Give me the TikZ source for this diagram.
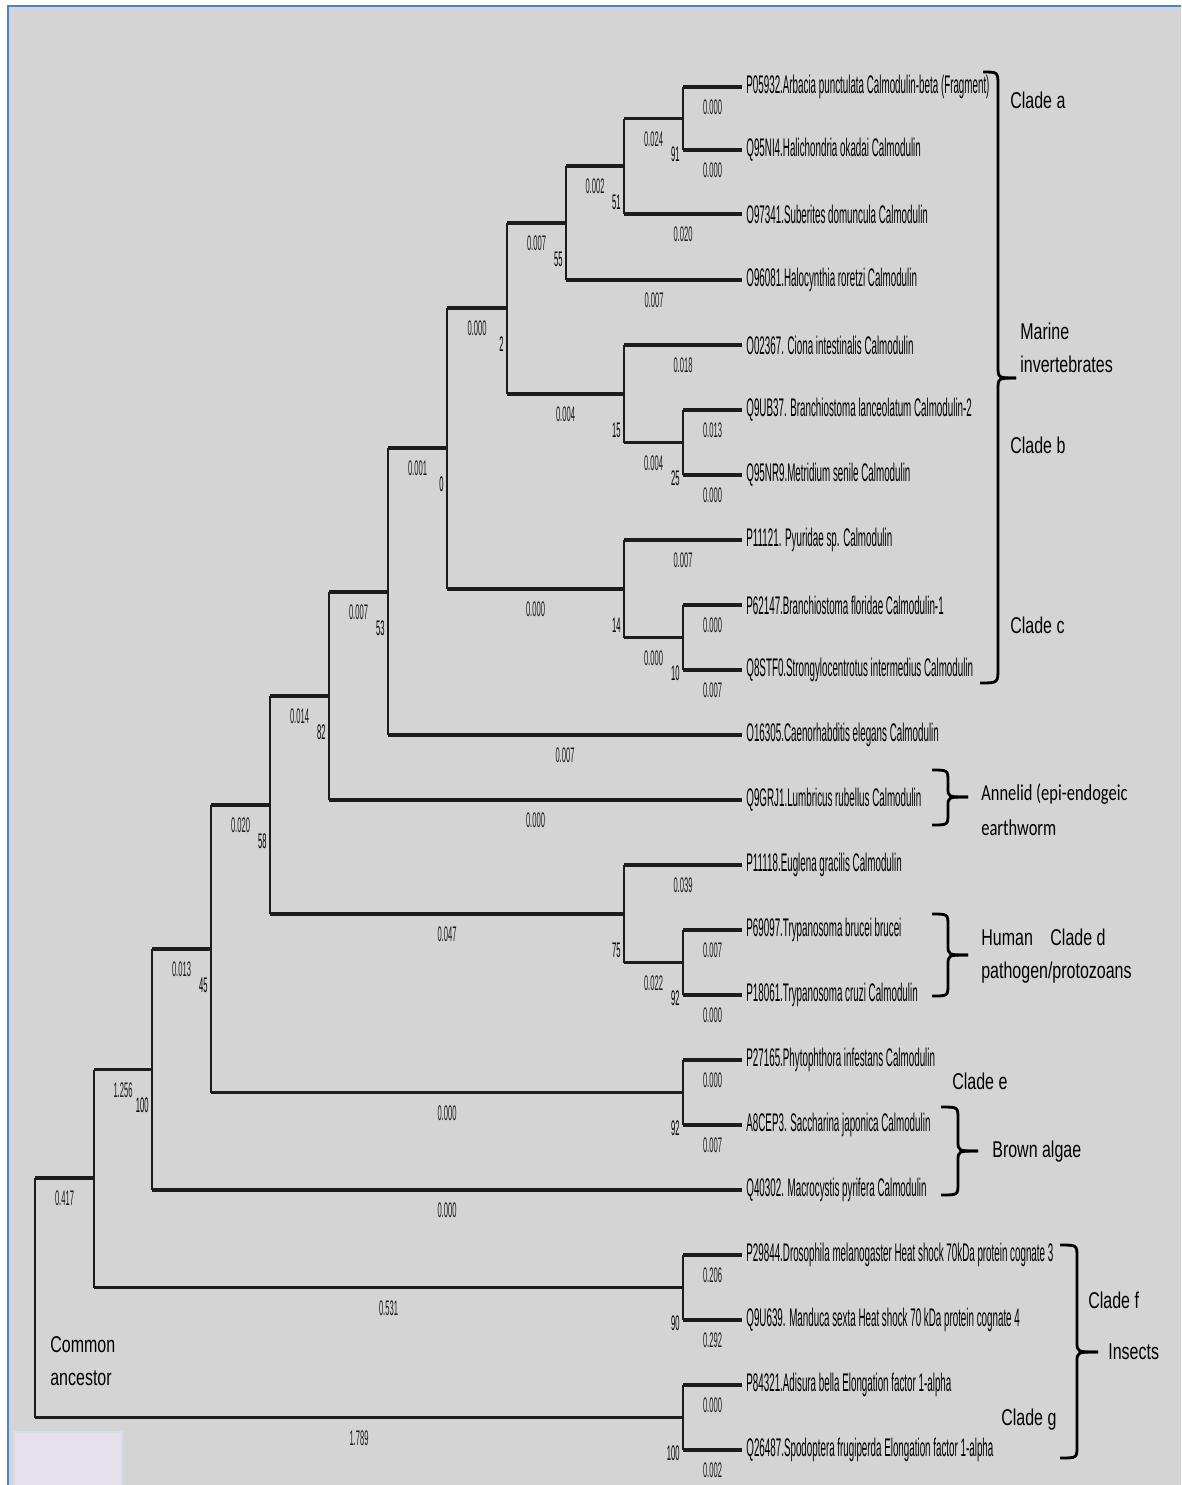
\documentclass[tikz,border=0pt]{standalone}
\usepackage{fontspec}
\setmainfont{Liberation Sans}
\newfontfamily\leaffont[FakeStretch=0.385]{Liberation Sans}
\newfontfamily\numfont[FakeStretch=0.36]{Liberation Sans}
\newfontfamily\cladefont[FakeStretch=0.7]{Liberation Sans}
\newfontfamily\annfont[FakeStretch=0.72]{Carlito}
\definecolor{bggray}{HTML}{D4D4D4}
\definecolor{frameblue}{HTML}{4F81C7}
\definecolor{boxlilac}{HTML}{E5E0EC}
\definecolor{boxedge}{HTML}{D3DDEB}
\definecolor{treeink}{HTML}{1C1C1C}
\begin{document}
\begin{tikzpicture}[x=0.02cm, y=-0.02cm,
  hbr/.style={line width=1.8pt, treeink},
  vbr/.style={line width=0.8pt, treeink},
  leaf/.style={anchor=west, inner xsep=2.3pt, inner ysep=0pt, font=\leaffont\fontsize{14.5}{14.5}\selectfont},
  blen/.style={below=6.5pt, inner sep=0pt, font=\numfont\fontsize{12}{12}\selectfont},
  boot/.style={anchor=east, xshift=-0.06cm, yshift=-0.72cm, inner sep=0pt, font=\numfont\fontsize{12}{12}\selectfont},
  clade/.style={anchor=west, inner sep=0pt, align=left, font=\cladefont\fontsize{13}{18.7}\selectfont},
  ann/.style={anchor=west, inner sep=0pt, align=left, font=\annfont\fontsize{13}{19.8}\selectfont},
  brace/.style={line width=1.6pt, black}]
  \useasboundingbox (0,0) rectangle (1181,1485);
  % background and frame
  \fill[white] (0,0) rectangle (1181,1485);
  \fill[bggray] (8,6) rectangle (1181,1485);
  \draw[frameblue, line width=1.6pt] (8,1485) -- (8,6) -- (1181,6);
  \filldraw[fill=boxlilac, draw=boxedge, line width=0.8pt] (14,1432) rectangle (122,1486);

  % leaves
  \node[leaf] (l1) at (742,87) {P05932.Arbacia punctulata Calmodulin-beta (Fragment)};
  \node[leaf] (l2) at (742,150) {Q95NI4.Halichondria okadai Calmodulin};
  \node[leaf] (l3) at (742,214) {O97341.Suberites domuncula Calmodulin};
  \node[leaf] (l4) at (742,280) {O96081.Halocynthia roretzi Calmodulin};
  \node[leaf] (l5) at (742,345) {O02367. Ciona intestinalis Calmodulin};
  \node[leaf] (l6) at (742,410) {Q9UB37. Branchiostoma lanceolatum Calmodulin-2};
  \node[leaf] (l7) at (742,475) {Q95NR9.Metridium senile Calmodulin};
  \node[leaf] (l8) at (742,540) {P11121. Pyuridae sp. Calmodulin};
  \node[leaf] (l9) at (742,605) {P62147.Branchiostoma floridae Calmodulin-1};
  \node[leaf] (l10) at (742,670) {Q8STF0.Strongylocentrotus intermedius Calmodulin};
  \node[leaf] (l11) at (742,735) {O16305.Caenorhabditis elegans Calmodulin};
  \node[leaf] (l12) at (742,800) {Q9GRJ1.Lumbricus rubellus Calmodulin};
  \node[leaf] (l13) at (742,865) {P11118.Euglena gracilis Calmodulin};
  \node[leaf] (l14) at (742,930) {P69097.Trypanosoma brucei brucei};
  \node[leaf] (l15) at (742,995) {P18061.Trypanosoma cruzi Calmodulin};
  \node[leaf] (l16) at (742,1060) {P27165.Phytophthora infestans Calmodulin};
  \node[leaf] (l17) at (742,1125) {A8CEP3. Saccharina japonica Calmodulin};
  \node[leaf] (l18) at (742,1190) {Q40302. Macrocystis pyrifera Calmodulin};
  \node[leaf] (l19) at (742,1255) {P29844.Drosophila melanogaster Heat shock 70kDa protein cognate 3};
  \node[leaf] (l20) at (742,1320) {Q9U639. Manduca sexta Heat shock 70 kDa protein cognate 4};
  \node[leaf] (l21) at (742,1385) {P84321.Adisura bella Elongation factor 1-alpha};
  \node[leaf] (l22) at (742,1450) {Q26487.Spodoptera frugiperda Elongation factor 1-alpha};

  % internal nodes
  \coordinate (n1) at (683,118.5);
  \coordinate (n2) at (624,166);
  \coordinate (n3) at (566,223);
  \coordinate (nb2) at (683,442.5);
  \coordinate (nb1) at (624,394);
  \coordinate (n4) at (507,308);
  \coordinate (nc2) at (683,637.5);
  \coordinate (nc1) at (624,589);
  \coordinate (n5) at (447,448);
  \coordinate (n6) at (388,592);
  \coordinate (n7) at (329,696);
  \coordinate (nd2) at (683,962.5);
  \coordinate (nd1) at (624,914);
  \coordinate (n8) at (270,805);
  \coordinate (ne) at (683,1092.5);
  \coordinate (n9) at (211,949);
  \coordinate (n10) at (152,1069.5);
  \coordinate (nf) at (683,1287.5);
  \coordinate (n11) at (94,1178);
  \coordinate (ng) at (683,1417.5);
  \coordinate (root) at (35,1298);

  % clade a
  \draw[vbr] (n1 |- l1.west) -- (n1 |- l2.west);
  \draw[hbr] (n1 |- l1.west) -- node[blen] (bl1) {0.000} (l1.west);
  \draw[hbr] (n1 |- l2.west) -- node[blen] (bl2) {0.000} (l2.west);
  \draw[vbr] (n2 |- n1) -- (n2 |- l3.west);
  \draw[hbr] (n2 |- n1) -- node[blen] (bl3) {0.024} (n1);
  \draw[hbr] (n2 |- l3.west) -- node[blen] (bl4) {0.020} (l3.west);
  \draw[vbr] (n3 |- n2) -- (n3 |- l4.west);
  \draw[hbr] (n3 |- n2) -- node[blen] (bl5) {0.002} (n2);
  \draw[hbr] (n3 |- l4.west) -- node[blen] (bl6) {0.007} (l4.west);
  % clade b
  \draw[vbr] (nb2 |- l6.west) -- (nb2 |- l7.west);
  \draw[hbr] (nb2 |- l6.west) -- node[blen] (bl7) {0.013} (l6.west);
  \draw[hbr] (nb2 |- l7.west) -- node[blen] (bl8) {0.000} (l7.west);
  \draw[vbr] (nb1 |- l5.west) -- (nb1 |- nb2);
  \draw[hbr] (nb1 |- l5.west) -- node[blen] (bl9) {0.018} (l5.west);
  \draw[hbr] (nb1 |- nb2) -- node[blen] (bl10) {0.004} (nb2);
  \draw[vbr] (n4 |- n3) -- (n4 |- nb1);
  \draw[hbr] (n4 |- n3) -- node[blen] (bl11) {0.007} (n3);
  \draw[hbr] (n4 |- nb1) -- node[blen] (bl12) {0.004} (nb1);
  % clade c
  \draw[vbr] (nc2 |- l9.west) -- (nc2 |- l10.west);
  \draw[hbr] (nc2 |- l9.west) -- node[blen] (bl13) {0.000} (l9.west);
  \draw[hbr] (nc2 |- l10.west) -- node[blen] (bl14) {0.007} (l10.west);
  \draw[vbr] (nc1 |- l8.west) -- (nc1 |- nc2);
  \draw[hbr] (nc1 |- l8.west) -- node[blen] (bl15) {0.007} (l8.west);
  \draw[hbr] (nc1 |- nc2) -- node[blen] (bl16) {0.000} (nc2);
  \draw[vbr] (n5 |- n4) -- (n5 |- nc1);
  \draw[hbr] (n5 |- n4) -- node[blen] (bl17) {0.000} (n4);
  \draw[hbr] (n5 |- nc1) -- node[blen] (bl18) {0.000} (nc1);
  % nematode and annelid
  \draw[vbr] (n6 |- n5) -- (n6 |- l11.west);
  \draw[hbr] (n6 |- n5) -- node[blen] (bl19) {0.001} (n5);
  \draw[hbr] (n6 |- l11.west) -- node[blen] (bl20) {0.007} (l11.west);
  \draw[vbr] (n7 |- n6) -- (n7 |- l12.west);
  \draw[hbr] (n7 |- n6) -- node[blen] (bl21) {0.007} (n6);
  \draw[hbr] (n7 |- l12.west) -- node[blen] (bl22) {0.000} (l12.west);
  % clade d
  \draw[vbr] (nd2 |- l14.west) -- (nd2 |- l15.west);
  \draw[hbr] (nd2 |- l14.west) -- node[blen] (bl23) {0.007} (l14.west);
  \draw[hbr] (nd2 |- l15.west) -- node[blen] (bl24) {0.000} (l15.west);
  \draw[vbr] (nd1 |- l13.west) -- (nd1 |- nd2);
  \draw[hbr] (nd1 |- l13.west) -- node[blen] (bl25) {0.039} (l13.west);
  \draw[hbr] (nd1 |- nd2) -- node[blen] (bl26) {0.022} (nd2);
  \draw[vbr] (n8 |- n7) -- (n8 |- nd1);
  \draw[hbr] (n8 |- n7) -- node[blen] (bl27) {0.014} (n7);
  \draw[hbr] (n8 |- nd1) -- node[blen] (bl28) {0.047} (nd1);
  % clade e and brown algae
  \draw[vbr] (ne |- l16.west) -- (ne |- l17.west);
  \draw[hbr] (ne |- l16.west) -- node[blen] (bl29) {0.000} (l16.west);
  \draw[hbr] (ne |- l17.west) -- node[blen] (bl30) {0.007} (l17.west);
  \draw[vbr] (n9 |- n8) -- (n9 |- ne);
  \draw[hbr] (n9 |- n8) -- node[blen] (bl31) {0.020} (n8);
  \draw[hbr] (n9 |- ne) -- node[blen] (bl32) {0.000} (ne);
  \draw[vbr] (n10 |- n9) -- (n10 |- l18.west);
  \draw[hbr] (n10 |- n9) -- node[blen] (bl33) {0.013} (n9);
  \draw[hbr] (n10 |- l18.west) -- node[blen] (bl34) {0.000} (l18.west);
  % insects
  \draw[vbr] (nf |- l19.west) -- (nf |- l20.west);
  \draw[hbr] (nf |- l19.west) -- node[blen] (bl35) {0.206} (l19.west);
  \draw[hbr] (nf |- l20.west) -- node[blen] (bl36) {0.292} (l20.west);
  \draw[vbr] (n11 |- n10) -- (n11 |- nf);
  \draw[hbr] (n11 |- n10) -- node[blen] (bl37) {1.256} (n10);
  \draw[hbr] (n11 |- nf) -- node[blen] (bl38) {0.531} (nf);
  \draw[vbr] (ng |- l21.west) -- (ng |- l22.west);
  \draw[hbr] (ng |- l21.west) -- node[blen] (bl39) {0.000} (l21.west);
  \draw[hbr] (ng |- l22.west) -- node[blen] (bl40) {0.002} (l22.west);
  \draw[vbr] (root |- n11) -- (root |- ng);
  \draw[hbr] (root |- n11) -- node[blen] (bl41) {0.417} (n11);
  \draw[hbr] (root |- ng) -- node[blen] (bl42) {1.789} (ng);

  % bootstrap values
  \node[boot] (bs1) at (n1) {91};
  \node[boot] (bs2) at (n2) {51};
  \node[boot] (bs3) at (n3) {55};
  \node[boot] (bs4) at (n4) {2};
  \node[boot] (bs5) at (nb1) {15};
  \node[boot] (bs6) at (nb2) {25};
  \node[boot] (bs7) at (n5) {0};
  \node[boot] (bs8) at (nc1) {14};
  \node[boot] (bs9) at (nc2) {10};
  \node[boot] (bs10) at (n6) {53};
  \node[boot] (bs11) at (n7) {82};
  \node[boot] (bs12) at (n8) {58};
  \node[boot] (bs13) at (nd1) {75};
  \node[boot] (bs14) at (nd2) {92};
  \node[boot] (bs15) at (n9) {45};
  \node[boot] (bs16) at (ne) {92};
  \node[boot] (bs17) at (n10) {100};
  \node[boot] (bs18) at (nf) {90};
  \node[boot] (bs19) at (ng) {100};

  % braces
  \draw[brace] (983,72) .. controls (998,72) .. (998,86) -- (998,366) .. controls (998,378) .. (1016,378);
  \draw[brace] (1016,378) .. controls (998,378) .. (998,390) -- (998,668) .. controls (998,683) .. (980,683);
  \draw[brace] (932,770) .. controls (948,770) .. (948,782) -- (948,788) .. controls (948,797) .. (968,797);
  \draw[brace] (968,797) .. controls (948,797) .. (948,806) -- (948,813) .. controls (948,825) .. (932,825);
  \draw[brace] (932,914) .. controls (948,914) .. (948,926) -- (948,945) .. controls (948,955) .. (968,955);
  \draw[brace] (968,955) .. controls (948,955) .. (948,965) -- (948,984) .. controls (948,996) .. (932,996);
  \draw[brace] (941,1107) .. controls (958,1107) .. (958,1119) -- (958,1141) .. controls (958,1151) .. (978,1151);
  \draw[brace] (978,1151) .. controls (958,1151) .. (958,1161) -- (958,1183) .. controls (958,1195) .. (941,1195);
  \draw[brace] (1060,1245) .. controls (1077,1245) .. (1077,1257) -- (1077,1342) .. controls (1077,1352) .. (1098,1352);
  \draw[brace] (1098,1352) .. controls (1077,1352) .. (1077,1362) -- (1077,1446) .. controls (1077,1458) .. (1060,1458);

  % group labels
  \node[clade] (ca) at (1010,100) {Clade a};
  \node[clade] (mi) at (1020,348) {Marine\\invertebrates};
  \node[clade] (cb) at (1010,445) {Clade b};
  \node[clade] (cc) at (1010,625) {Clade c};
  \node[ann] (an) at (981,810) {Annelid (epi-endogeic\\earthworm};
  \node[clade] (hp) at (981,956) {Human\hspace{10pt}Clade d\\pathogen/protozoans};
  \node[clade] (ce) at (952,1081) {Clade e};
  \node[clade] (ba) at (992,1152) {Brown algae};
  \node[clade] (cf) at (1088,1300) {Clade f};
  \node[clade] (in) at (1108,1352) {Insects};
  \node[clade] (cg) at (1001,1420) {Clade g};
  \node[clade] (ca0) at (50,1361) {Common\\ancestor};
\end{tikzpicture}
\end{document}
